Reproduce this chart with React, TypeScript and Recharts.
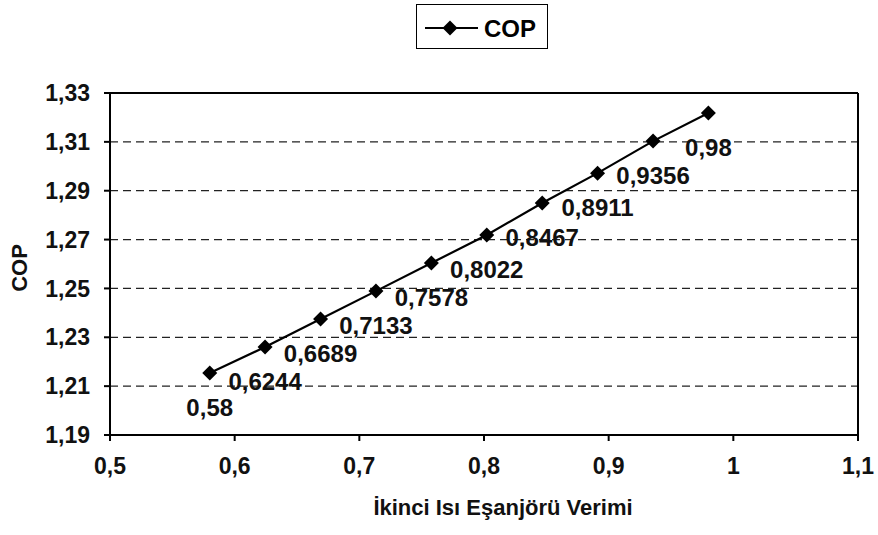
import React from 'react';
import { LineChart, Line, XAxis, YAxis, CartesianGrid, ReferenceLine, LabelList, Legend, Label } from 'recharts';

// second heat exchanger efficiency and resulting COP
const efficiency = [0.58, 0.6244, 0.6689, 0.7133, 0.7578, 0.8022, 0.8467, 0.8911, 0.9356, 0.98];
const cop = [1.2154, 1.226, 1.2375, 1.2489, 1.2604, 1.2719, 1.285, 1.2972, 1.3103, 1.3218];
const xTicks = [0.5, 0.6, 0.7, 0.8, 0.9, 1, 1.1];
const yTicks = [1.19, 1.21, 1.23, 1.25, 1.27, 1.29, 1.31, 1.33];

const seriesName = 'COP';
const xTitle = 'İkinci Isı Eşanjörü Verimi';
const yTitle = 'COP';

const data = efficiency.map((x, i) => ({ x, cop: cop[i] }));

const FONT = '"Liberation Sans", Arial, sans-serif';
const comma = (v: number) => String(v).replace('.', ',');

const Diamond = (props: any) => {
  const { cx, cy } = props;
  if (cx == null || cy == null) return null;
  const r = 7.5;
  return <path d={`M${cx},${cy - r}L${cx + r},${cy}L${cx},${cy + r}L${cx - r},${cy}Z`} fill="#000" stroke="none" />;
};

const PointLabel = (props: any) => {
  const { x, y, value } = props;
  return (
    <text x={x} y={y + 43} textAnchor="middle" fontFamily={FONT} fontWeight="bold" fontSize={24} fill="#111">
      {comma(value)}
    </text>
  );
};

const LegendBox = () => (
  <div style={{ width: 132, height: 45, border: '1.5px solid #000', boxSizing: 'border-box', position: 'relative', background: '#fff' }}>
    <svg width={132} height={45} style={{ position: 'absolute', left: -1, top: -1 }}>
      <line x1={9} y1={24} x2={62} y2={24} stroke="#000" strokeWidth={2} />
      <path d="M34,16.5L41.5,24L34,31.5L26.5,24Z" fill="#000" />
      <text x={68} y={33} fontFamily={FONT} fontWeight="bold" fontSize={24} fill="#000">{seriesName}</text>
    </svg>
  </div>
);

const XTitle = (props: any) => {
  const { viewBox } = props;
  return (
    <text x={viewBox.x + viewBox.width / 2 + 19} y={viewBox.y + 80} textAnchor="middle" fontFamily={FONT} fontWeight="bold" fontSize={22} fill="#111">
      {xTitle}
    </text>
  );
};

const YTitle = (props: any) => {
  const { viewBox } = props;
  const cy = viewBox.y + viewBox.height / 2 + 4;
  return (
    <text x={27} y={cy} transform={`rotate(-90, 27, ${cy})`} textAnchor="middle" fontFamily={FONT} fontWeight="bold" fontSize={22} fill="#111">
      {yTitle}
    </text>
  );
};

export default function App() {
  const tickStyle = { fontFamily: FONT, fontWeight: 'bold' as const, fontSize: 23, fill: '#111' };
  return (
    <div style={{ position: 'absolute', left: 0, top: 0, width: 878, height: 535, background: '#fff' }}>
      <LineChart width={878} height={535} data={data} margin={{ top: 93, right: 20, bottom: 0, left: 30 }}>
        <CartesianGrid vertical={false} stroke="#222" strokeDasharray="8 5" strokeWidth={1.2} />
        <XAxis
          dataKey="x"
          type="number"
          domain={[0.5, 1.1]}
          ticks={xTicks}
          tickFormatter={comma}
          height={100}
          stroke="#000"
          strokeWidth={2}
          tickSize={6}
          tickMargin={17}
          tick={tickStyle}
        >
          <Label content={<XTitle />} />
        </XAxis>
        <YAxis
          type="number"
          domain={[1.19, 1.33]}
          ticks={yTicks}
          tickFormatter={comma}
          width={80}
          stroke="#000"
          strokeWidth={2}
          tickSize={6}
          tickMargin={14}
          tick={tickStyle}
        >
          <Label content={<YTitle />} />
        </YAxis>
        <ReferenceLine y={1.33} stroke="#000" strokeWidth={2} />
        <ReferenceLine x={1.1} stroke="#000" strokeWidth={2} />
        <Legend
          layout="vertical"
          align="center"
          verticalAlign="middle"
          content={<LegendBox />}
          wrapperStyle={{ top: 4, left: 416, width: 132, height: 45 }}
        />
        <Line
          dataKey="cop"
          name={seriesName}
          stroke="#000"
          strokeWidth={2.2}
          dot={<Diamond />}
          activeDot={false}
          isAnimationActive={false}
        >
          <LabelList dataKey="x" content={<PointLabel />} />
        </Line>
      </LineChart>
    </div>
  );
}
